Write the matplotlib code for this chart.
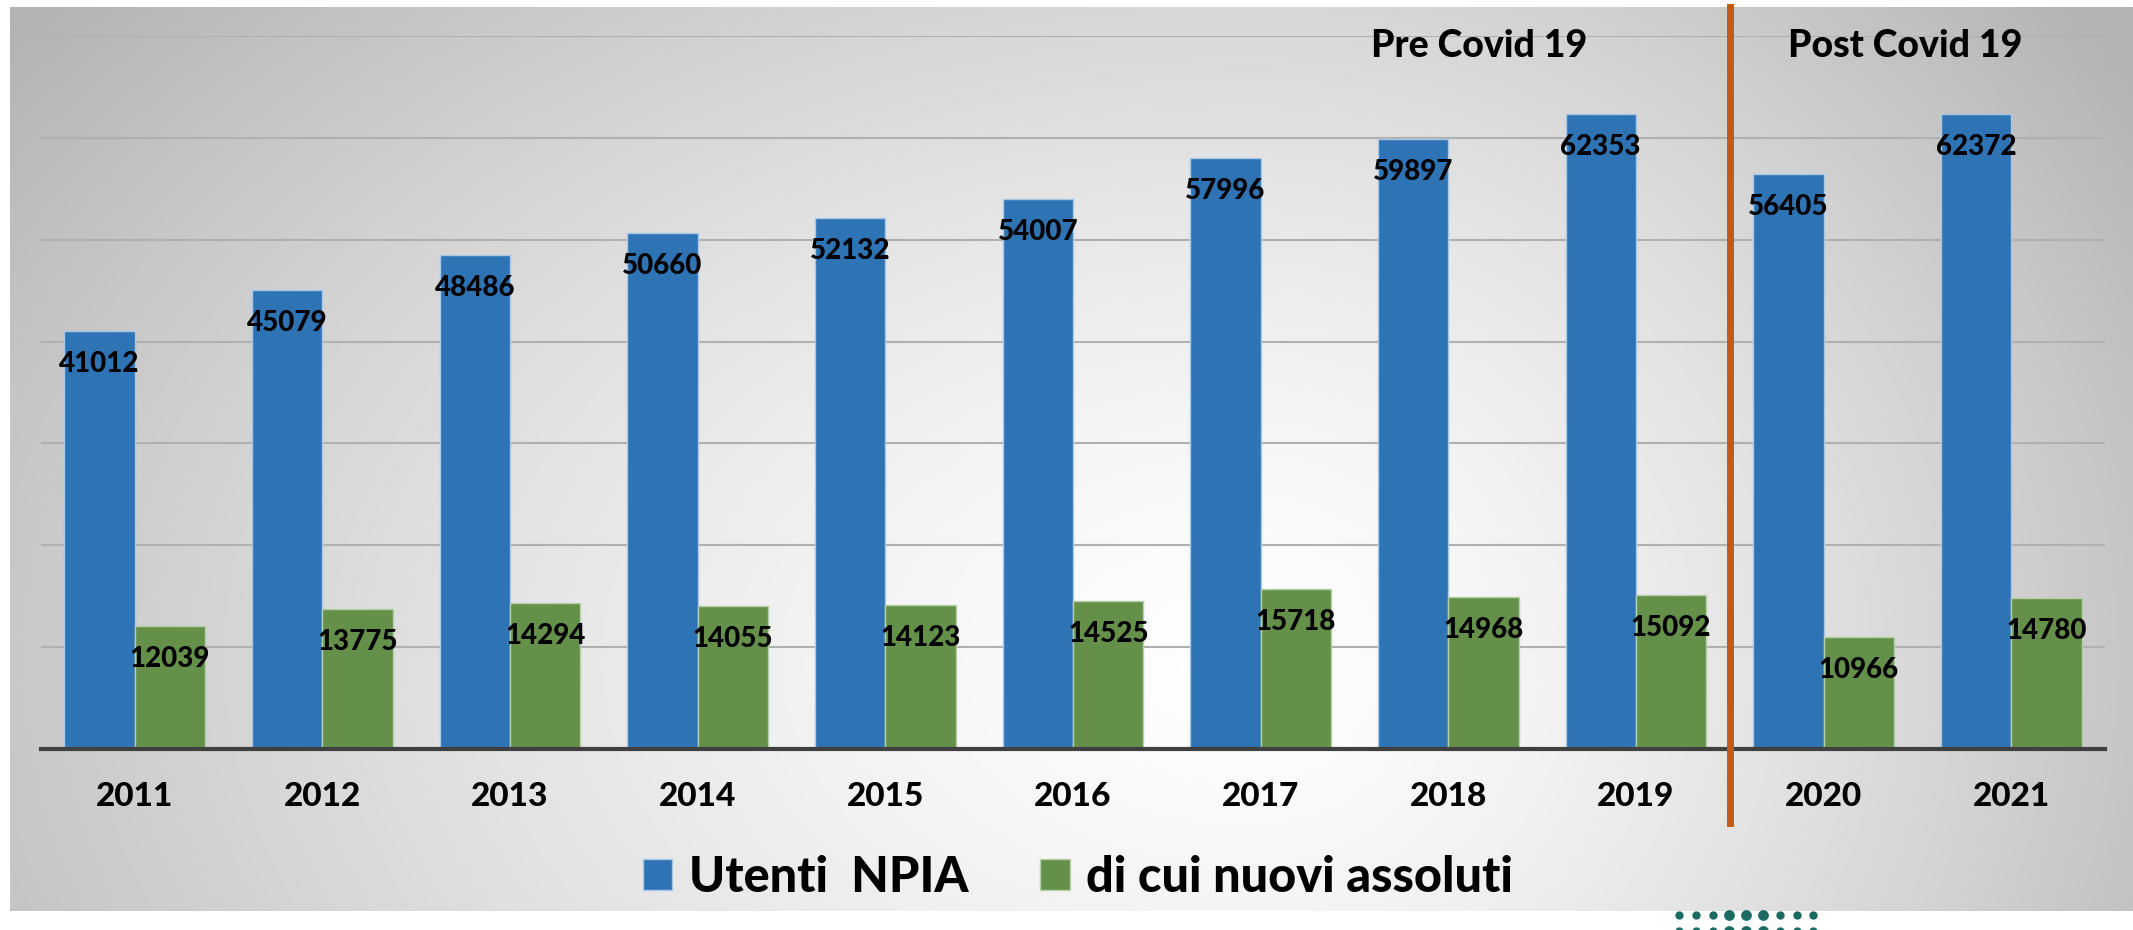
import numpy as np
import matplotlib
matplotlib.use("Agg")
import matplotlib.pyplot as plt
from matplotlib import font_manager as fm

# ---------------- data ----------------
years = ["2011", "2012", "2013", "2014", "2015", "2016", "2017", "2018", "2019", "2020", "2021"]
utenti_npia = [41012, 45079, 48486, 50660, 52132, 54007, 57996, 59897, 62353, 56405, 62372]
nuovi_assoluti = [12039, 13775, 14294, 14055, 14123, 14525, 15718, 14968, 15092, 10966, 14780]
series_names = ["Utenti  NPIA", "di cui nuovi assoluti"]
period_labels = ["Pre Covid 19", "Post Covid 19"]
covid_split = 8.5  # boundary between 2019 and 2020

# ---------------- style ----------------
W, H, DPI = 2133, 930, 100
FONT = "Lato"
# pick the heaviest available Lato weight
weights = sorted({f.weight for f in fm.fontManager.ttflist if f.name == FONT
                  and isinstance(f.weight, int)})
WT = 900 if 900 in weights else (800 if 800 in weights else "bold")
plt.rcParams["font.family"] = [FONT, "DejaVu Sans"]
BLUE = "#2E74B5"
GREEN = "#65904A"

fig = plt.figure(figsize=(W / DPI, H / DPI), dpi=DPI)
fig.patch.set_facecolor("white")

def px(x, y):
    return x / W, 1 - y / H

# background panel with radial-ish gradient
pl, pt, pr, pb = 10, 7, 2133, 911
bg = fig.add_axes([pl / W, 1 - pb / H, (pr - pl) / W, (pb - pt) / H], zorder=0)
gx = np.linspace(pl, pr, 600)
gy = np.linspace(pt, pb, 300)
GX, GY = np.meshgrid(gx, gy)
cx, cy = 1250, 660
rx = np.where(GX < cx, 1450, 1000)
ry = 950
d = np.sqrt(((GX - cx) / rx) ** 2 + ((GY - cy) / ry) ** 2)
val = 255 - 68 * np.clip(d, 0, 1.1) ** 1.4
val = np.clip(val, 180, 255) / 255.0
img = np.dstack([val, val, val])
bg.imshow(img, aspect="auto", extent=[0, 1, 0, 1], interpolation="bicubic")
bg.set_axis_off()

# main axes
ax_left, ax_right, ax_top, ax_bot = 41, 2105, 36, 749
ax = fig.add_axes([ax_left / W, 1 - ax_bot / H, (ax_right - ax_left) / W, (ax_bot - ax_top) / H], zorder=2)
ax.set_facecolor("none")

x = np.arange(len(years))
bw = 0.375
b1 = ax.bar(x - bw / 2, utenti_npia, width=bw, color=BLUE, edgecolor="#A9C8E8", linewidth=1.0,
            label=series_names[0], zorder=3)
b2 = ax.bar(x + bw / 2, nuovi_assoluti, width=bw, color=GREEN, edgecolor="#B5CFA6", linewidth=1.0,
            label=series_names[1], zorder=3)

ax.set_xlim(-0.5, len(years) - 0.5)
ax.set_ylim(0, 70000)
ax.set_yticks(np.arange(10000, 70001, 10000))
ax.yaxis.grid(True, color="#B0B0B0", linewidth=1.5, zorder=1)
ax.set_axisbelow(True)
ax.tick_params(axis="y", left=False, labelleft=False)
for s in ["left", "right", "top"]:
    ax.spines[s].set_visible(False)
ax.spines["bottom"].set_color("#404040")
ax.spines["bottom"].set_linewidth(3.0)
ax.spines["bottom"].set_zorder(4)

ax.set_xticks(x)
ax.set_xticklabels(years, fontsize=24, fontweight=WT)
ax.tick_params(axis="x", length=0, pad=24)

# data labels (inside end)
for bars in (b1, b2):
    for rect in bars:
        h = rect.get_height()
        ax.annotate(f"{int(h)}", xy=(rect.get_x() + rect.get_width() / 2, h),
                    xytext=(0, -41 * 72 / DPI), textcoords="offset points",
                    ha="center", va="baseline", fontsize=20, fontweight=WT,
                    color="black", zorder=5)

# covid split line
yb = (ax_bot - 823) / (ax_bot - ax_top)
yt = (ax_bot - pt) / (ax_bot - ax_top)
ax.axvline(covid_split, ymin=yb, ymax=yt, color="#C55A11", linewidth=5, clip_on=False, zorder=6)

# period labels
fig.text(*px(1479, 57), period_labels[0], ha="center", va="baseline", fontsize=27, fontweight=WT, zorder=7)
fig.text(*px(1905, 57), period_labels[1], ha="center", va="baseline", fontsize=27, fontweight=WT, zorder=7)

# legend
leg = fig.legend(handles=[b1, b2], labels=series_names, loc="center",
                 bbox_to_anchor=px(1078, 877), ncol=2, frameon=False,
                 prop={"family": [FONT, "DejaVu Sans"], "weight": WT, "size": 35},
                 handlelength=0.61, handleheight=0.61, handletextpad=0.33,
                 columnspacing=1.49, borderpad=0, borderaxespad=0)
for hnd in leg.legend_handles:
    hnd.set_linewidth(1.0)

# decorative dots at bottom (partial logo)
dec = fig.add_axes([0, 0, 1, 1], zorder=8)
dec.set_xlim(0, W)
dec.set_ylim(H, 0)
dec.set_axis_off()
for row_y in (915, 931):
    for i in range(9):
        big = 3 <= i <= 5
        dec.scatter(1679 + i * 16.8, row_y, s=(60 if big else 36), color="#1B6B62", linewidths=0)

fig.savefig("out.png", dpi=DPI, facecolor="white")
